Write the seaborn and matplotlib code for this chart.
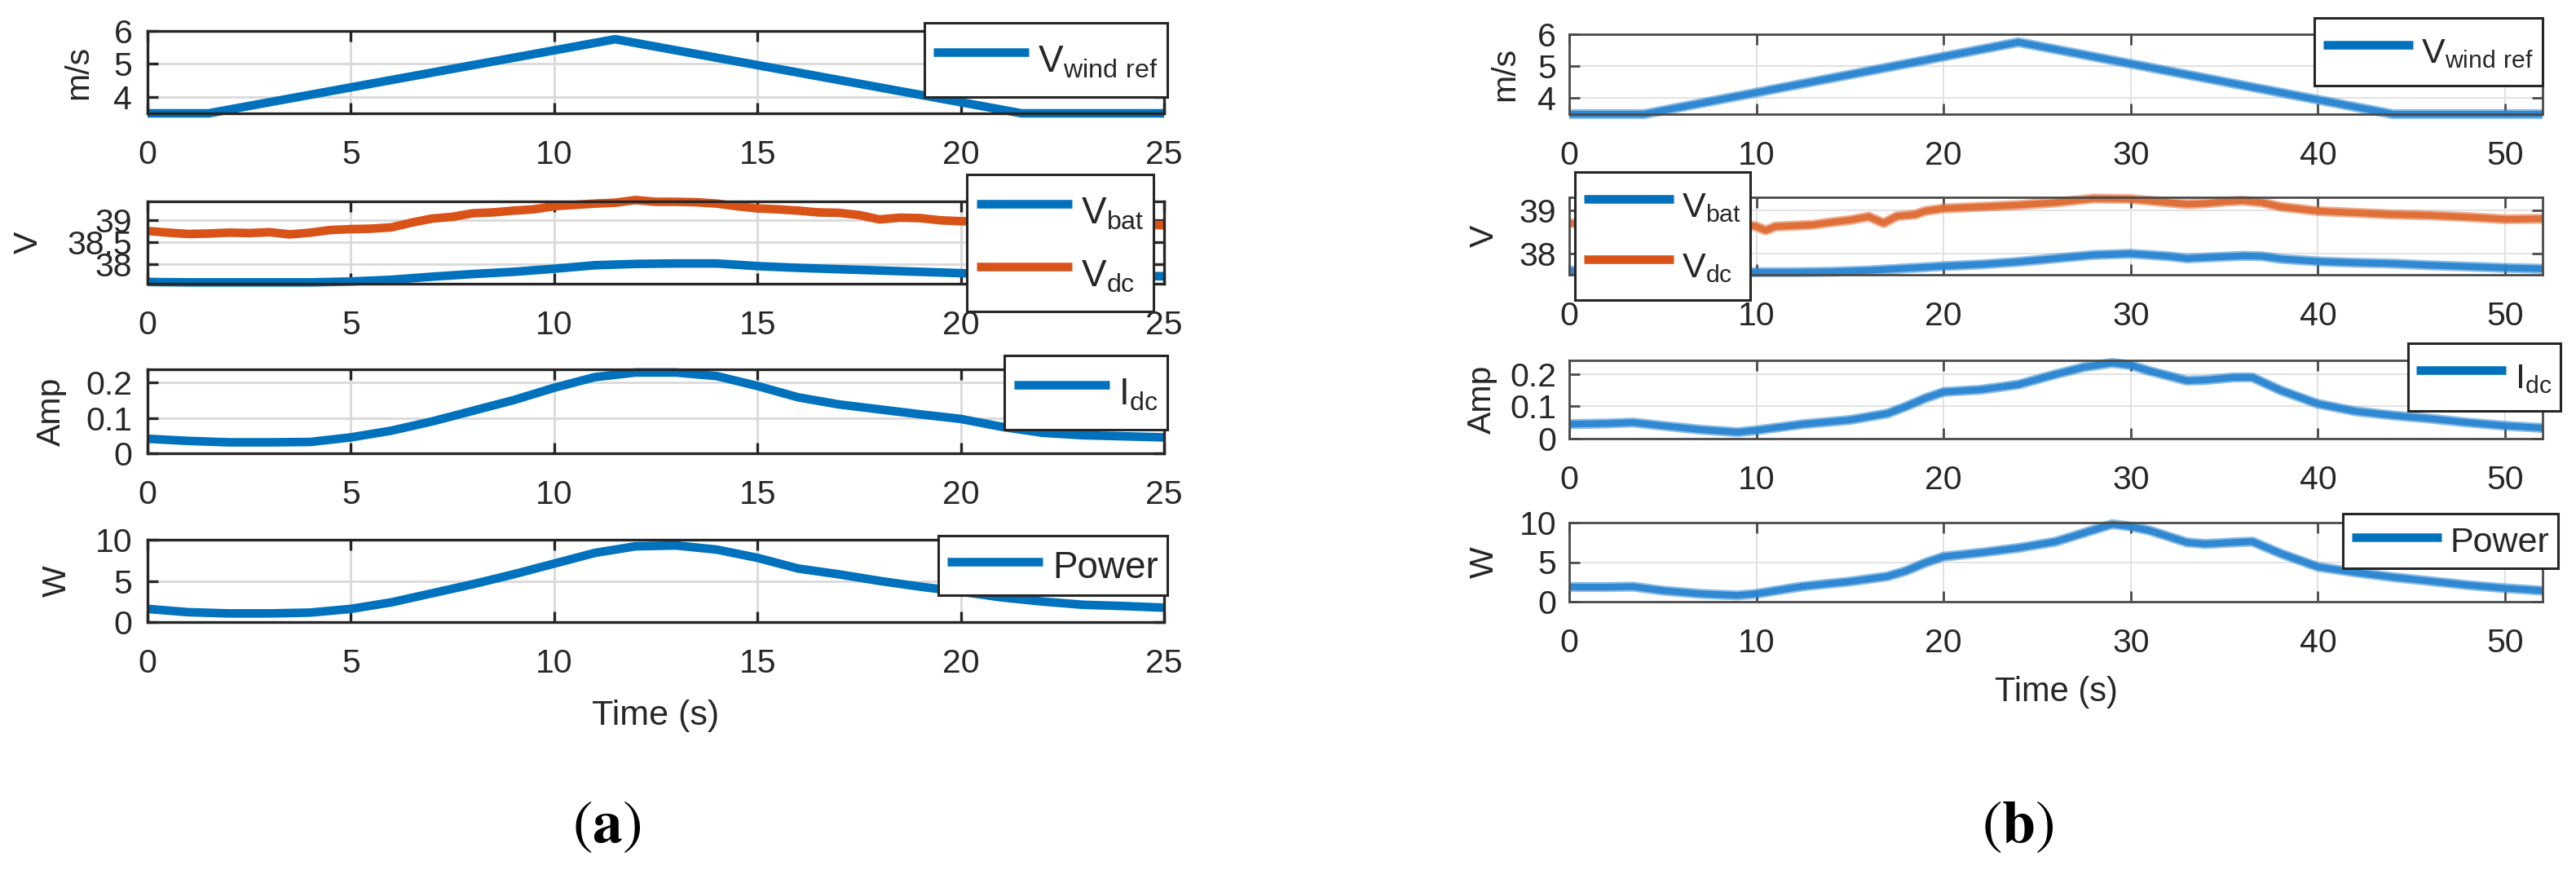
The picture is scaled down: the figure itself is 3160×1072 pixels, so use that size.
import numpy as np
import pandas as pd
import matplotlib
matplotlib.use("Agg")
import matplotlib.pyplot as plt
from matplotlib.lines import Line2D
import seaborn as sns

# ---------------- data ----------------
# panel (a)
t_wind_a = [0, 1.5, 11.5, 21.5, 25]
v_wind_a = [3.5, 3.5, 5.75, 3.5, 3.5]

t_a = list(range(26))
vbat_a = [37.60, 37.59, 37.59, 37.59, 37.59, 37.61, 37.65, 37.72, 37.78, 37.83,
          37.90, 37.98, 38.01, 38.02, 38.02, 37.96, 37.92, 37.89, 37.86, 37.83,
          37.80, 37.78, 37.76, 37.75, 37.74, 37.73]
idc_a = [.041, .035, .031, .031, .032, .045, .064, .090, .120, .150, .185, .215, .228,
         .228, .218, .190, .158, .138, .124, .110, .097, .075, .058, .051, .048, .045]
pow_a = [1.6, 1.2, 1.05, 1.05, 1.15, 1.6, 2.4, 3.5, 4.6, 5.8, 7.1, 8.4, 9.2, 9.3, 8.8,
         7.8, 6.5, 5.8, 5.0, 4.3, 3.7, 3.0, 2.5, 2.1, 1.95, 1.75]

t_vdc_a = [i * 0.5 for i in range(51)]
vdc_a = [38.76, 38.72, 38.69, 38.70, 38.72, 38.71, 38.73, 38.68, 38.72, 38.78,
         38.80, 38.81, 38.84, 38.95, 39.04, 39.08, 39.16, 39.18, 39.22, 39.25,
         39.32, 39.35, 39.38, 39.40, 39.46, 39.42, 39.42, 39.41, 39.38, 39.32,
         39.27, 39.25, 39.22, 39.18, 39.17, 39.12, 39.02, 39.06, 39.05, 39.00,
         38.98, 38.97, 38.96, 38.95, 38.94, 38.93, 38.93, 38.92, 38.91, 38.90, 38.89]

# panel (b)
t_wind_b = [0, 4, 24, 44, 52]
v_wind_b = [3.5, 3.5, 5.75, 3.5, 3.5]

t_vbat_b = [0, 1, 2, 4, 6, 8, 10, 12, 14, 16, 18, 20, 22, 24, 26, 28, 30, 32, 33, 34,
            36, 37, 38, 40, 42, 44, 46, 48, 50, 52]
vbat_b = [37.60, 37.56, 37.55, 37.55, 37.55, 37.55, 37.56, 37.56, 37.57, 37.60, 37.65,
          37.70, 37.74, 37.80, 37.88, 37.96, 37.99, 37.93, 37.88, 37.90, 37.94, 37.93,
          37.87, 37.81, 37.78, 37.76, 37.72, 37.69, 37.66, 37.64]

t_vdc_b = [0, 1, 2, 3, 4, 5, 6, 7, 8, 9, 10, 10.5, 11, 12, 13, 14, 15, 16, 16.8, 17.5,
           18.5, 19, 20, 22, 24, 26, 28, 30, 31, 32, 33, 34, 35, 36, 37, 38, 39, 40,
           42, 44, 46, 48, 50, 52]
vdc_b = [38.70, 38.68, 38.66, 38.70, 38.69, 38.71, 38.70, 38.72, 38.70, 38.70, 38.62,
         38.53, 38.62, 38.64, 38.66, 38.72, 38.77, 38.85, 38.70, 38.86, 38.90, 38.98,
         39.04, 39.08, 39.12, 39.18, 39.27, 39.26, 39.22, 39.18, 39.14, 39.16, 39.20,
         39.22, 39.18, 39.08, 39.03, 38.98, 38.94, 38.90, 38.88, 38.84, 38.79, 38.80]

t_b = [0, 2, 3.4, 5, 7, 9, 10, 12.5, 15, 17, 18, 19, 20, 22, 24, 26, 27.5, 29, 30, 31,
       33, 34, 35.5, 36.5, 38, 40, 42, 44, 46, 48, 50, 52]
idc_b = [.045, .047, .05, .04, .028, .02, .026, .045, .058, .078, .10, .125, .145, .152,
         .168, .20, .222, .235, .228, .21, .18, .182, .19, .19, .15, .108, .085, .072,
         .062, .05, .04, .033]
pow_b = [1.85, 1.85, 1.9, 1.4, 1.0, 0.8, 1.0, 1.95, 2.55, 3.2, 3.9, 4.9, 5.7, 6.2, 6.8,
         7.6, 8.7, 9.8, 9.5, 9.0, 7.5, 7.3, 7.5, 7.6, 6.1, 4.4, 3.7, 3.1, 2.6, 2.1, 1.7, 1.4]

ylabels = ["m/s", "V", "Amp", "W"]
xticks_a = [0, 5, 10, 15, 20, 25]
xticks_b = [0, 10, 20, 30, 40, 50]
yt_wind = [4, 5, 6]
yt_v_a = [38, 38.5, 39]
yt_v_b = [38, 39]
yt_i = [0, 0.1, 0.2]
yt_p = [0, 5, 10]

lab_wind = r"V$_{\mathregular{wind\ ref}}$"
lab_bat = r"V$_{\mathregular{bat}}$"
lab_dc = r"V$_{\mathregular{dc}}$"
lab_idc = r"I$_{\mathregular{dc}}$"
lab_pow = "Power"

# ---------------- style ----------------
sns.set_style("ticks")
plt.rcParams["font.family"] = ["Liberation Sans", "DejaVu Sans"]

BLUE = "#0072BD"
ORANGE = "#D95319"
BLUE_B = "#2a86d0"
ORANGE_B = "#e06d36"
TXT = "#262626"

W, H, DPI = 3160, 1072, 100
fig = plt.figure(figsize=(W / DPI, H / DPI), dpi=DPI)


def add_ax(l, t, r, b):
    return fig.add_axes([l / W, 1 - b / H, (r - l) / W, (b - t) / H])


def style(ax, xticks, xlim, yticks, ylim, ylab, ylab_x, panel):
    ax.set_xlim(*xlim)
    ax.set_ylim(*ylim)
    ax.set_xticks(xticks)
    ax.set_xticklabels([f"{v:g}" for v in xticks])
    ax.set_yticks(yticks)
    ax.set_yticklabels([f"{v:g}" for v in yticks])
    if panel == "a":
        gc, glw, sc, slw, ypad = "#d9d9d9", 2.0, TXT, 2.4, 13.5
    else:
        gc, glw, sc, slw, ypad = "#e2e2e2", 1.4, "#4a4a4a", 2.0, 11.5
    ax.grid(True, color=gc, linewidth=glw)
    ax.set_axisbelow(True)
    for s in ax.spines.values():
        s.set_visible(True)
        s.set_color(sc)
        s.set_linewidth(slw)
    ax.tick_params(direction="in", length=9.5, width=slw, top=True, right=True,
                   color=sc, labelcolor=TXT, labelsize=29.5)
    ax.tick_params(axis="x", pad=23)
    ax.tick_params(axis="y", pad=ypad)
    ax.set_xlabel("")
    ax.set_ylabel(ylab, fontsize=29.5, color=TXT)
    ax.yaxis.set_label_coords(ylab_x, 0.5)


def draw(ax, x, y, color, lw=7.6, panel="a"):
    df = pd.DataFrame({"t": x, "v": y})
    if panel == "b":
        sns.lineplot(data=df, x="t", y="v", ax=ax, color=color, linewidth=lw + 1.2,
                     alpha=0.55, errorbar=None, sort=False, legend=False)
        sns.lineplot(data=df, x="t", y="v", ax=ax, color=color, linewidth=lw - 1.8,
                     alpha=0.95, errorbar=None, sort=False, legend=False)
    else:
        sns.lineplot(data=df, x="t", y="v", ax=ax, color=color, linewidth=lw,
                     errorbar=None, sort=False, legend=False)
    for ln in ax.lines:
        ln.set_clip_on(False)
        ln.set_solid_capstyle("butt")
        ln.set_solid_joinstyle("round")


def add_leg(ax, colors, labels, x, y, loc, fs, hh, ls=0.2):
    handles = [Line2D([], [], color=c, lw=7.6, solid_capstyle="butt") for c in colors]
    leg = ax.legend(handles, labels, loc=loc, bbox_to_anchor=(x / W, 1 - y / H),
                    bbox_transform=fig.transFigure, borderaxespad=0, fontsize=fs,
                    frameon=True, fancybox=False, framealpha=1, edgecolor=TXT,
                    handlelength=2.55, handletextpad=0.25, borderpad=0.25,
                    labelspacing=ls, handleheight=hh)
    leg.get_frame().set_linewidth(2.2)
    leg.set_zorder(10)


# ---------------- panel (a) ----------------
la, ra = 181, 1428
wa = ra - la
a1 = add_ax(la, 38, ra, 139)
a2 = add_ax(la, 247, ra, 348)
a3 = add_ax(la, 453, ra, 556)
a4 = add_ax(la, 662, ra, 763)

draw(a1, t_wind_a, v_wind_a, BLUE)
draw(a2, t_a, vbat_a, BLUE)
draw(a2, t_vdc_a, vdc_a, ORANGE)
draw(a3, t_a, idc_a, BLUE)
draw(a4, t_a, pow_a, BLUE)

style(a1, xticks_a, (0, 25), yt_wind, (3.5, 6), ylabels[0], (115 - la) / wa, "a")
style(a2, xticks_a, (0, 25), yt_v_a, (37.56, 39.43), ylabels[1], (54 - la) / wa, "a")
style(a3, xticks_a, (0, 25), yt_i, (0, 0.237), ylabels[2], (82 - la) / wa, "a")
style(a4, xticks_a, (0, 25), yt_p, (0, 10), ylabels[3], (89 - la) / wa, "a")

add_leg(a1, [BLUE], [lab_wind], 1432, 28, "upper right", 33, 1.9)
add_leg(a2, [BLUE, ORANGE], [lab_bat, lab_dc], 1415, 214, "upper right", 33, 1.9, 0.2)
add_leg(a3, [BLUE], [lab_idc], 1432, 436, "upper right", 33, 1.9)
add_leg(a4, [BLUE], [lab_pow], 1432, 657, "upper right", 33, 1.3)

fig.text(804 / W, 1 - 878 / H, "Time (s)", ha="center", va="center",
         fontsize=31, color=TXT)
fig.text(744 / W, 1 - 1013 / H, r"$(\mathbf{a})$", ha="center", va="center",
         fontsize=53, math_fontfamily="stix", color="black")

# ---------------- panel (b) ----------------
lb, rb = 1925, 3119
wb = rb - lb
b1 = add_ax(lb, 42, rb, 140)
b2 = add_ax(lb, 242, rb, 337)
b3 = add_ax(lb, 442, rb, 538)
b4 = add_ax(lb, 641, rb, 738)

draw(b1, t_wind_b, v_wind_b, BLUE_B, panel="b")
draw(b2, t_vbat_b, vbat_b, BLUE_B, panel="b")
draw(b2, t_vdc_b, vdc_b, ORANGE_B, panel="b")
draw(b3, t_b, idc_b, BLUE_B, panel="b")
draw(b4, t_b, pow_b, BLUE_B, panel="b")

style(b1, xticks_b, (0, 52), yt_wind, (3.5, 6), ylabels[0], (1865 - lb) / wb, "b")
style(b2, xticks_b, (0, 52), yt_v_b, (37.5, 39.3), ylabels[1], (1840 - lb) / wb, "b")
style(b3, xticks_b, (0, 52), yt_i, (0, 0.243), ylabels[2], (1837 - lb) / wb, "b")
style(b4, xticks_b, (0, 52), yt_p, (0, 10), ylabels[3], (1840 - lb) / wb, "b")

add_leg(b1, [BLUE], [lab_wind], 3119, 22, "upper right", 31, 1.82)
add_leg(b2, [BLUE, ORANGE], [lab_bat, lab_dc], 1932, 211, "upper left", 31, 1.82, 0.29)
add_leg(b3, [BLUE], [lab_idc], 3141, 421, "upper right", 31, 1.82)
add_leg(b4, [BLUE], [lab_pow], 3138, 630, "upper right", 31, 1.18)

fig.text(2522 / W, 1 - 849 / H, "Time (s)", ha="center", va="center",
         fontsize=30, color=TXT)
fig.text(2475 / W, 1 - 1013 / H, r"$(\mathbf{b})$", ha="center", va="center",
         fontsize=53, math_fontfamily="stix", color="black")

fig.savefig("out.png", dpi=DPI, facecolor="white")
